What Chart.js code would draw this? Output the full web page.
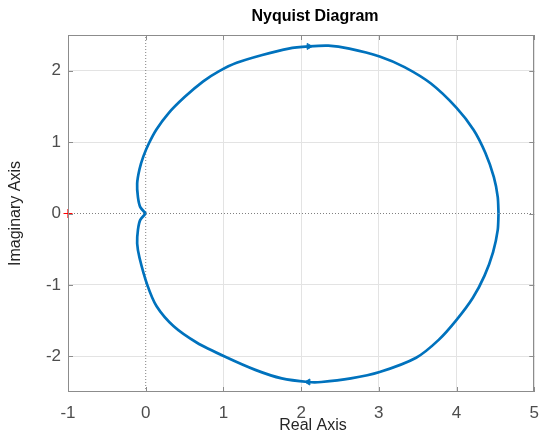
<!DOCTYPE html>
<html>
<head>
<meta charset="utf-8">
<title>Nyquist Diagram</title>
<script src="https://cdn.jsdelivr.net/npm/chart.js@4.4.1/dist/chart.umd.min.js"></script>
<style>
  html, body { margin: 0; padding: 0; background: #fff; }
  #wrap { width: 550px; height: 438px; }
</style>
</head>
<body>
<div id="wrap"><canvas id="nyq" width="550" height="438"></canvas></div>
<script>
// points: real part / imaginary part
const upperRe = [0, -0.07, -0.10, -0.11, -0.08, -0.03, 0.04, 0.14, 0.29, 0.50, 0.74, 0.94, 1.17, 1.50, 1.84, 2.10, 2.35, 2.62, 3.01, 3.33, 3.67, 4.00, 4.22, 4.37, 4.48, 4.53, 4.54];
const upperIm = [0, 0.09, 0.23, 0.42, 0.62, 0.80, 0.98, 1.18, 1.40, 1.63, 1.85, 1.99, 2.11, 2.22, 2.31, 2.34, 2.35, 2.31, 2.20, 2.05, 1.82, 1.48, 1.17, 0.85, 0.51, 0.23, 0];
const lowerRe = [4.54, 4.53, 4.47, 4.36, 4.21, 4.00, 3.77, 3.48, 3.01, 2.64, 2.26, 2.09, 1.75, 1.41, 1.03, 0.66, 0.36, 0.14, 0.02, -0.08, -0.11, -0.10, -0.07, 0];
const lowerIm = [0, -0.23, -0.54, -0.87, -1.18, -1.49, -1.77, -2.02, -2.22, -2.31, -2.36, -2.36, -2.31, -2.19, -2.01, -1.81, -1.58, -1.30, -1.00, -0.62, -0.42, -0.23, -0.09, 0];
const arrowRe = [2.10, 2.09], arrowIm = [2.34, -2.36], arrowRot = [90, -90];
const critRe = [-1], critIm = [0];
const xTicks = [-1, 0, 1, 2, 3, 4, 5];
const yTicks = [-2, -1, 0, 1, 2];
const xRange = [-1, 5], yRange = [-2.5, 2.5];

const toPts = (re, im) => re.map((v, i) => ({ x: v, y: im[i] }));
const blue = '#0072BD', FONT = '"Liberation Sans", Arial, sans-serif';

// box round the axes, with short inward ticks like matlab
const boxPlugin = {
    id: 'box',
    afterDraw(chart) {
        const { ctx, chartArea: a, scales: { x, y } } = chart;
        ctx.save(); ctx.strokeStyle = '#8c8c8c'; ctx.lineWidth = 1;
        ctx.strokeRect(Math.round(a.left) + 0.5, Math.round(a.top) + 0.5, Math.round(a.right - a.left) - 1, Math.round(a.bottom - a.top) - 1);
        ctx.beginPath();
        xTicks.forEach(v => { let px = Math.round(x.getPixelForValue(v)) + 0.5; ctx.moveTo(px, a.top); ctx.lineTo(px, a.top + 5); ctx.moveTo(px, a.bottom); ctx.lineTo(px, a.bottom - 5); });
        yTicks.forEach(v => { let py = Math.round(y.getPixelForValue(v)) + 0.5; ctx.moveTo(a.left, py); ctx.lineTo(a.left + 5, py); ctx.moveTo(a.right, py); ctx.lineTo(a.right - 5, py); });
        ctx.stroke(); ctx.restore();
    }
};

// title and axis labels
const textPlugin = {
    id: 'labels',
    afterDraw(chart) {
        const ctx = chart.ctx, a = chart.chartArea;
        ctx.save(); ctx.textAlign = 'center'; ctx.textBaseline = 'alphabetic';
        ctx.fillStyle = '#000'; ctx.font = 'bold 16px ' + FONT;
        ctx.fillText('Nyquist Diagram', 315, 21);
        ctx.fillStyle = '#262626'; ctx.font = '16px ' + FONT;
        ctx.fillText('Real Axis', 313, 430);
        ctx.translate(19.5, (a.top + a.bottom) / 2); ctx.rotate(-Math.PI / 2);
        ctx.fillText('Imaginary Axis', 0, 0);
        ctx.restore();
    }
};

const zeroLine = { borderColor: '#808080', borderWidth: 1, borderDash: [1, 2], pointRadius: 0, showLine: true, order: 5 };
const curve = { borderColor: blue, borderWidth: 2.7, pointRadius: 0, showLine: true, tension: 0.25, fill: false, order: 2 };
const gridColor = c => (c.tick && c.tick.value === 0) ? 'rgba(0,0,0,0)' : '#e3e3e3';

new Chart(document.getElementById('nyq'), {
    type: 'scatter',
    data: {
        datasets: [
            { ...zeroLine, data: [{ x: xRange[0], y: 0 }, { x: xRange[1], y: 0 }] },
            { ...zeroLine, data: [{ x: 0, y: yRange[0] }, { x: 0, y: yRange[1] }] },
            { ...curve, data: toPts(upperRe, upperIm) },
            { ...curve, data: toPts(lowerRe, lowerIm) },
            { data: toPts(arrowRe, arrowIm), pointStyle: 'triangle', pointRotation: arrowRot, pointRadius: 3.5, backgroundColor: blue, borderColor: blue, borderWidth: 1, order: 1 },
            { data: toPts(critRe, critIm), pointStyle: 'cross', pointRadius: 4.5, borderColor: '#ff0000', borderWidth: 1.2, clip: false, order: 0 }
        ]
    },
    options: {
        responsive: false, animation: false, devicePixelRatio: 1,
        layout: { padding: { top: 35, right: 12, left: 0, bottom: 0 } },
        plugins: { legend: { display: false }, tooltip: { enabled: false }, title: { display: false } },
        scales: {
            x: {
                type: 'linear', min: xRange[0], max: xRange[1],
                afterBuildTicks: s => { s.ticks = xTicks.map(v => ({ value: v })); },
                afterFit: s => { s.height = 46; },
                grid: { color: gridColor, drawTicks: false }, border: { display: false },
                ticks: { padding: 11, color: '#4d4d4d', font: { family: FONT, size: 17 } }
            },
            y: {
                type: 'linear', min: yRange[0], max: yRange[1],
                afterBuildTicks: s => { s.ticks = yTicks.map(v => ({ value: v })); },
                afterFit: s => { s.width = 68; },
                grid: { color: gridColor, drawTicks: false }, border: { display: false },
                ticks: { padding: 7, color: '#4d4d4d', font: { family: FONT, size: 17 } }
            }
        }
    },
    plugins: [boxPlugin, textPlugin]
});
</script>
</body>
</html>
